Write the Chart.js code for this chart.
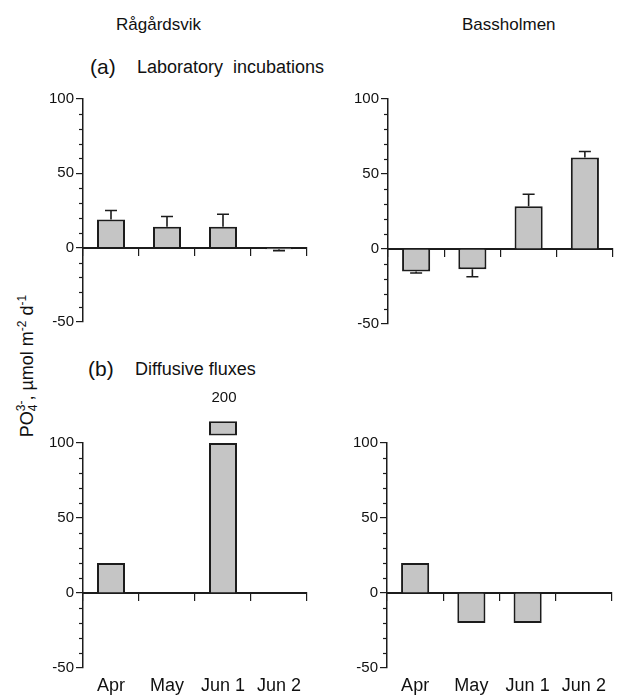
<!DOCTYPE html>
<html>
<head>
    <title>PO4 fluxes</title>
    <style>
        body {
            margin: 0;
            width: 621px;
            height: 698px;
            background-color: #fff;
            color: #111;
            font-family: 'Liberation Sans', Arial, sans-serif;
            position: relative;
            overflow: hidden;
        }
        .txt {
            position: absolute;
            white-space: pre;
            line-height: 1;
            font-size: 18px;
        }
        .panel {
            position: absolute;
        }
        .ylab {
            position: absolute;
            left: 27px;
            top: 366px;
            font-size: 18px;
            white-space: nowrap;
            transform: translate(-50%, -50%) rotate(-90deg);
        }
        .ylab sup, .ylab sub { font-size: 12px; }
        .stack {
            display: inline-flex;
            flex-direction: column;
            vertical-align: middle;
            font-size: 12px;
            line-height: 1;
            margin-top: -2px;
        }
    </style>
    <script src="https://cdn.jsdelivr.net/npm/chart.js"></script>
</head>
<body>
    <div class="txt" style="left:116px; top:16px; font-size:17px;">Rågårdsvik</div>
    <div class="txt" style="left:462px; top:16px; font-size:17px;">Bassholmen</div>
    <div class="txt" style="left:90px; top:56px; font-size:21px;">(a)</div>
    <div class="txt" style="left:137px; top:58px;">Laboratory  incubations</div>
    <div class="txt" style="left:88px; top:358px; font-size:21px;">(b)</div>
    <div class="txt" style="left:135px; top:360px;">Diffusive fluxes</div>
    <div class="ylab">PO<span class="stack"><span>3-</span><span>4</span></span>, µmol m<sup>-2</sup> d<sup>-1</sup></div>

    <canvas class="panel" id="labRag" style="left:40px; top:88px;" width="280" height="246"></canvas>
    <canvas class="panel" id="labBas" style="left:345px; top:88px;" width="281" height="248"></canvas>
    <canvas class="panel" id="difRag" style="left:40px; top:385px;" width="280" height="313"></canvas>
    <canvas class="panel" id="difBas" style="left:344px; top:385px;" width="277" height="313"></canvas>

    <script>
        // data
        var months = ['Apr', 'May', 'Jun 1', 'Jun 2'];

        // (a) laboratory incubations, bar value and end of the error bar
        var labRag = [19, 14, 14, -1];
        var labRagErr = [25, 21, 22.5, -2];
        var labBas = [-15, -13.5, 28.5, 61];
        var labBasErr = [-16, -18.5, 36.5, 65];

        // (b) diffusive fluxes; Jun 1 at Rågårdsvik is broken at 100 (true value 200)
        var difRag = [20, 0, 100, 0];
        var difRagBreak = [null, null, [105, 114.5], null];
        var difRagBreakLabel = '200';
        var difBas = [20, -20, -20, 0];

        var yTicks = [-50, 0, 50, 100];

        Chart.defaults.font.family = "'Liberation Sans', Arial, sans-serif";
        Chart.defaults.color = '#111';
        Chart.defaults.animation = false;

        var ink = '#1c1c1c';
        var fill = '#c5c5c5';

        // short minor ticks every 10 units, error bars, break label
        var extras = {
            id: 'extras',
            afterDatasetsDraw: function (chart, args, opts) {
                var ctx = chart.ctx;
                var y = chart.scales.y;
                ctx.save();
                ctx.strokeStyle = ink;
                ctx.lineWidth = 1.2;
                for (var v = y.min; v <= y.max; v += 10) {
                    if (v % 50 === 0) continue;
                    var py = Math.round(y.getPixelForValue(v)) + 0.5;
                    ctx.beginPath();
                    ctx.moveTo(y.right - 4, py);
                    ctx.lineTo(y.right, py);
                    ctx.stroke();
                }
                if (opts.errs) {
                    var meta = chart.getDatasetMeta(0);
                    var vals = chart.data.datasets[0].data;
                    ctx.lineWidth = 1.6;
                    opts.errs.forEach(function (e, i) {
                        var x = meta.data[i].x;
                        var y0 = y.getPixelForValue(vals[i]);
                        var y1 = y.getPixelForValue(e);
                        ctx.beginPath();
                        ctx.moveTo(x, y0);
                        ctx.lineTo(x, y1);
                        ctx.moveTo(x - 6, y1);
                        ctx.lineTo(x + 6, y1);
                        ctx.stroke();
                    });
                }
                if (opts.breakLabel) {
                    var bmeta = chart.getDatasetMeta(1);
                    var bi = opts.breakIndex;
                    var top = y.getPixelForValue(chart.data.datasets[1].data[bi][1]);
                    ctx.fillStyle = '#111';
                    ctx.font = "15px 'Liberation Sans', Arial, sans-serif";
                    ctx.textAlign = 'center';
                    ctx.textBaseline = 'middle';
                    ctx.fillText(opts.breakLabel, bmeta.data[bi].x + 1, top - 23);
                }
                ctx.restore();
            }
        };

        function barSet(values) {
            return {
                data: values,
                backgroundColor: fill,
                borderColor: ink,
                borderWidth: 2,
                categoryPercentage: 1,
                barPercentage: 0.5,
                grouped: false
            };
        }

        function makeChart(id, datasets, padTop, padRight, padBottom, showMonths, extraOpts) {
            var scales = {
                y: {
                    min: -50,
                    max: 100,
                    afterBuildTicks: function (s) {
                        s.ticks = yTicks.map(function (v) { return { value: v }; });
                    },
                    ticks: { font: { size: 15 }, color: '#111', padding: 2 },
                    grid: { drawOnChartArea: false, tickLength: 7, color: ink, lineWidth: 1.2 },
                    border: { color: ink, width: 1.5 },
                    afterFit: function (s) { s.width = 43; }
                },
                x: {
                    position: { y: 0 },
                    offset: true,
                    ticks: { display: false },
                    grid: { drawOnChartArea: false, offset: true, tickLength: 7, color: ink, lineWidth: 1.2 },
                    border: { color: ink, width: 2 }
                }
            };
            if (showMonths) {
                scales.xl = {
                    type: 'category',
                    position: 'bottom',
                    offset: true,
                    grid: { display: false, drawTicks: false },
                    border: { display: false },
                    ticks: { font: { size: 18 }, color: '#111', padding: 7, maxRotation: 0, autoSkip: false },
                    afterFit: function (s) { s.height = 30; }
                };
            }
            return new Chart(document.getElementById(id), {
                type: 'bar',
                data: { labels: months, datasets: datasets },
                options: {
                    responsive: false,
                    layout: { padding: { top: padTop, right: padRight, bottom: padBottom, left: 0 } },
                    scales: scales,
                    plugins: {
                        legend: { display: false },
                        tooltip: { enabled: false },
                        extras: extraOpts || {}
                    }
                },
                plugins: [extras]
            });
        }

        makeChart('labRag', [barSet(labRag)], 10, 13, 12, false, { errs: labRagErr });
        makeChart('labBas', [barSet(labBas)], 11, 13, 12, false, { errs: labBasErr });

        var breakSet = barSet(difRagBreak);
        breakSet.clip = false;
        breakSet.borderSkipped = false;
        makeChart('difRag', [barSet(difRag), breakSet], 58, 13, 0, true,
            { breakLabel: difRagBreakLabel, breakIndex: 2 });
        makeChart('difBas', [barSet(difBas)], 58, 9, 0, true, {});
    </script>
</body>
</html>
